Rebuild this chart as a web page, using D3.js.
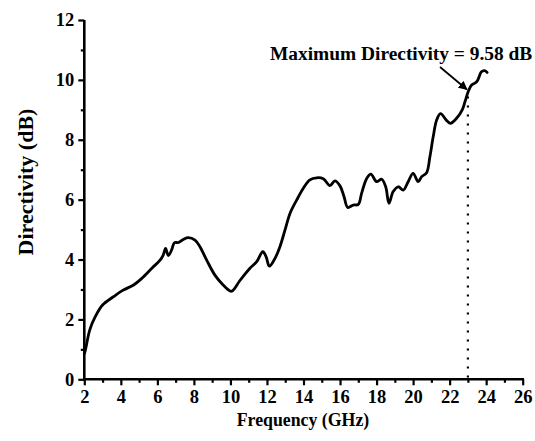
<!DOCTYPE html>
<html><head><meta charset="utf-8">
<script src="https://cdn.jsdelivr.net/npm/d3@7"></script>
<style>body{margin:0;background:#fff}svg{display:block}</style>
</head><body>
<svg id="c" width="535" height="441"></svg>
<script>
const freq = [2.0,2.05,2.3,2.6,3.0,3.6,4.1,4.7,5.15,5.7,6.15,6.32,6.45,6.6,6.78,6.93,7.15,7.42,7.69,8.06,8.33,8.7,9.15,9.6,9.97,10.1,10.52,11.07,11.44,11.77,11.95,12.13,12.44,12.71,12.99,13.26,13.63,13.99,14.35,14.72,15.08,15.45,15.72,16.0,16.22,16.42,16.72,17.0,17.18,17.46,17.69,18.0,18.28,18.5,18.68,18.91,19.19,19.46,19.73,20.0,20.28,20.47,20.74,20.92,21.1,21.29,21.5,21.84,22.05,22.38,22.69,22.84,23.0,23.2,23.45,23.56,23.74,23.92,24.05];
const directivity = [0.85,0.95,1.65,2.09,2.48,2.76,2.97,3.15,3.37,3.71,3.98,4.15,4.37,4.13,4.32,4.56,4.57,4.67,4.73,4.65,4.43,3.98,3.48,3.15,2.95,2.95,3.3,3.71,3.93,4.26,4.1,3.78,4.04,4.43,4.99,5.54,5.99,6.38,6.66,6.73,6.70,6.47,6.63,6.46,6.10,5.74,5.82,5.84,6.21,6.71,6.85,6.6,6.68,6.43,5.88,6.27,6.43,6.32,6.6,6.88,6.6,6.77,6.9,7.43,8.1,8.66,8.87,8.64,8.55,8.72,9.0,9.27,9.58,9.83,9.92,10.02,10.27,10.31,10.25];
const xTicks = [2,4,6,8,10,12,14,16,18,20,22,24,26];
const yTicks = [0,2,4,6,8,10,12];
const xMinor = [3,5,7,9,11,13,15,17,19,21,23,25];
const yMinor = [1,3,5,7,9,11];
const maxFreq = 23, maxValue = 9.58, maxLabel = "Maximum Directivity = 9.58 dB";
const xTitle = "Frequency (GHz)", yTitle = "Directivity (dB)";

const svg = d3.select("#c");
const L = 84.3, R = 522.7, T = 20, B = 379.3;
const x = d3.scaleLinear().domain([2,26]).range([L,R]);
const y = d3.scaleLinear().domain([0,12]).range([B,T]);
const font = "'Liberation Serif','Times New Roman',serif";

// curve
svg.append("path").datum(freq.map((f,i)=>[f,directivity[i]]))
  .attr("fill","none").attr("stroke","#000").attr("stroke-width",2.8)
  .attr("stroke-linejoin","round").attr("stroke-linecap","round")
  .attr("d", d3.line().x(d=>x(d[0])).y(d=>y(d[1])).curve(d3.curveCatmullRom.alpha(0.5)));

// dotted line
svg.append("line").attr("x1",x(maxFreq)).attr("x2",x(maxFreq))
  .attr("y1",y(maxValue)+4).attr("y2",B)
  .attr("stroke","#000").attr("stroke-width",2.2).attr("stroke-dasharray","2,7");

// axes
const xAxis = svg.append("g").attr("transform",`translate(0,${B})`)
  .call(d3.axisBottom(x).tickValues(xTicks).tickSize(6).tickPadding(4).tickFormat(d3.format("d")));
svg.append("g").attr("transform",`translate(0,${B})`)
  .call(d3.axisBottom(x).tickValues(xMinor).tickSize(3.5).tickFormat(""))
  .call(g=>g.select(".domain").remove());
const yAxis = svg.append("g").attr("transform",`translate(${L},0)`)
  .call(d3.axisLeft(y).tickValues(yTicks).tickSize(6).tickPadding(4).tickFormat(d3.format("d")));
svg.append("g").attr("transform",`translate(${L},0)`)
  .call(d3.axisLeft(y).tickValues(yMinor).tickSize(3.5).tickFormat(""))
  .call(g=>g.select(".domain").remove());
svg.selectAll(".domain").attr("stroke-width",2.6);
xAxis.select(".domain").attr("d",`M${L-1.3},0H${R+1.3}`);
yAxis.select(".domain").attr("d",`M0,${T}V${B+1.3}`);
svg.selectAll(".tick line").attr("stroke-width",2.2);
svg.selectAll(".tick text").attr("font-family",font).attr("font-weight","bold")
  .attr("font-size",18.5).attr("fill","#000");
xAxis.selectAll(".tick text").attr("dy","0.72em");

// titles
svg.append("text").attr("x",303).attr("y",426)
  .attr("text-anchor","middle").attr("font-family",font).attr("font-weight","bold")
  .attr("font-size",17.8).text(xTitle);
svg.append("text").attr("transform",`translate(33,182) rotate(-90)`)
  .attr("text-anchor","middle").attr("font-family",font).attr("font-weight","bold")
  .attr("font-size",22).text(yTitle);

// annotation
svg.append("text").attr("x",270).attr("y",60).attr("font-family",font)
  .attr("font-weight","bold").attr("font-size",19.4).text(maxLabel);
svg.append("defs").append("marker").attr("id","ah").attr("viewBox","0 0 10 10")
  .attr("refX",9).attr("refY",5).attr("markerWidth",5).attr("markerHeight",5)
  .attr("orient","auto").attr("markerUnits","strokeWidth")
  .append("path").attr("d","M0,0L10,5L0,10Z").attr("fill","#000");
svg.append("line").attr("x1",440).attr("y1",67).attr("x2",x(maxFreq)-1).attr("y2",y(maxValue)-3)
  .attr("stroke","#000").attr("stroke-width",1.8).attr("marker-end","url(#ah)");
</script>
</body></html>
